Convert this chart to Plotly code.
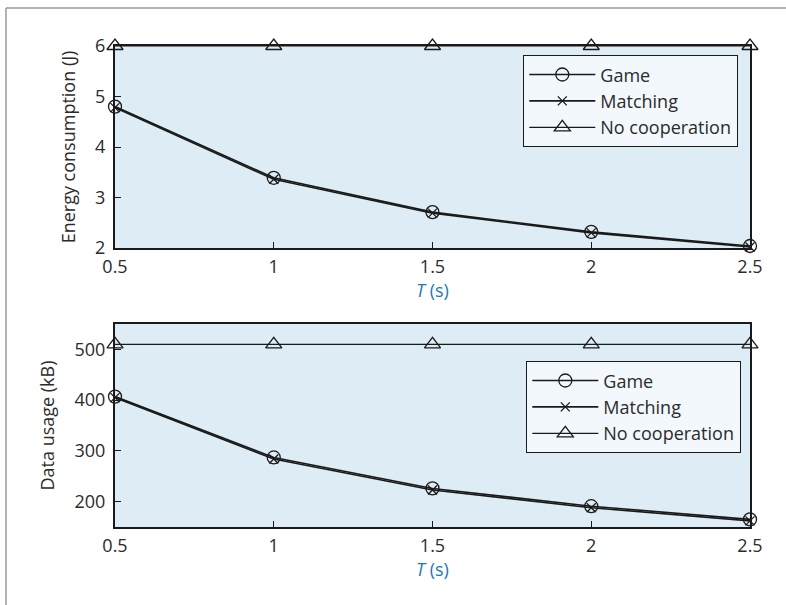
import plotly.graph_objects as go

W, H = 786, 605

T = [0.5, 1, 1.5, 2, 2.5]
x_ticks = [0.5, 1, 1.5, 2, 2.5]
x_tick_labels = ["0.5", "1", "1.5", "2", "2.5"]

energy_game = [4.80, 3.39, 2.71, 2.32, 2.04]
energy_matching = [4.78, 3.36, 2.69, 2.30, 2.02]
energy_nocoop = [6.0, 6.0, 6.0, 6.0, 6.0]
energy_ticks = [2, 3, 4, 5, 6]

data_game = [407, 287, 226, 191, 165]
data_matching = [405, 284, 223, 188, 162]
data_nocoop = [510, 510, 510, 510, 510]
data_ticks = [200, 300, 400, 500]

series_names = ["Game", "Matching", "No cooperation"]

LINE = "#1a1a1a"
TXT = "#2b2b2b"
BLUE = "#1a7ab4"
FONT = "Open Sans"

def px_x(p):
    return p / W

def px_y(p):
    return 1 - p / H

fig = go.Figure()

markers = [
    dict(symbol="circle-open", size=13, color=LINE, line=dict(width=1.3, color=LINE)),
    dict(symbol="x-thin-open", size=9, color=LINE, line=dict(width=1.3, color=LINE)),
    dict(symbol="triangle-up-open", size=14, color=LINE, line=dict(width=1.3, color=LINE)),
]

top = [energy_game, energy_matching, energy_nocoop]
bot = [data_game, data_matching, data_nocoop]
for i, (name, ys) in enumerate(zip(series_names, top)):
    fig.add_trace(go.Scatter(
        x=T, y=ys, name=name, mode="lines+markers",
        line=dict(color=LINE, width=1.6 if i < 2 else 1.2),
        marker=markers[i], cliponaxis=False,
        xaxis="x", yaxis="y", legend="legend"))
for i, (name, ys) in enumerate(zip(series_names, bot)):
    fig.add_trace(go.Scatter(
        x=T, y=ys, name=name, mode="lines+markers",
        line=dict(color=LINE, width=1.6 if i < 2 else 1.2),
        marker=markers[i], cliponaxis=False,
        xaxis="x2", yaxis="y2", legend="legend2"))

axis_common = dict(
    showline=True, linecolor=LINE, linewidth=2, mirror=True,
    ticks="inside", ticklen=6, tickcolor=LINE, tickwidth=1.3,
    showgrid=False, zeroline=False, automargin=False,
    tickfont=dict(family=FONT, size=18, color=TXT),
)

title_x = dict(text="<i>T</i> (s)", font=dict(family=FONT, size=18, color=BLUE), standoff=3)

legend_common = dict(
    xanchor="right", yanchor="top",
    bgcolor="#f2f8fb", bordercolor=LINE, borderwidth=1.3,
    font=dict(family=FONT, size=18, color=TXT),
    tracegroupgap=0, itemwidth=66,
)

fig.update_layout(
    width=W, height=H,
    margin=dict(l=0, r=0, t=0, b=0),
    paper_bgcolor="white",
    plot_bgcolor="#deedf5",
    showlegend=True,
    xaxis=dict(axis_common, domain=[px_x(115), px_x(750)], range=[0.5, 2.5],
               tickvals=x_ticks, ticktext=x_tick_labels, anchor="y",
               ticklabelstandoff=1, title=title_x),
    yaxis=dict(axis_common, domain=[px_y(248), px_y(46)], range=[2, 6],
               tickvals=energy_ticks, anchor="x", ticklabelstandoff=4,
               title=dict(text="Energy consumption (J)",
                          font=dict(family=FONT, size=18, color=TXT))),
    xaxis2=dict(axis_common, domain=[px_x(115), px_x(750)], range=[0.5, 2.5],
                tickvals=x_ticks, ticktext=x_tick_labels, anchor="y2",
                ticklabelstandoff=1, title=title_x),
    yaxis2=dict(axis_common, domain=[px_y(527), px_y(324)], range=[150, 550],
                tickvals=data_ticks, anchor="x2", ticklabelstandoff=4,
                title=dict(text="Data usage (kB)",
                           font=dict(family=FONT, size=18, color=TXT))),
    legend=dict(legend_common, x=px_x(738), y=px_y(55)),
    legend2=dict(legend_common, x=px_x(741), y=px_y(361)),
    shapes=[
        dict(type="line", xref="paper", yref="paper",
             x0=px_x(6), x1=1, y0=px_y(8), y1=px_y(8),
             line=dict(color="#9a9a9a", width=1.5)),
        dict(type="line", xref="paper", yref="paper",
             x0=px_x(6), x1=px_x(6), y0=px_y(8), y1=0,
             line=dict(color="#9a9a9a", width=1.5)),
    ],
)

fig.write_html(
    "out.html",
    config={"displayModeBar": False},
    post_script="document.body.style.margin='0';document.body.style.overflow='hidden';",
)
